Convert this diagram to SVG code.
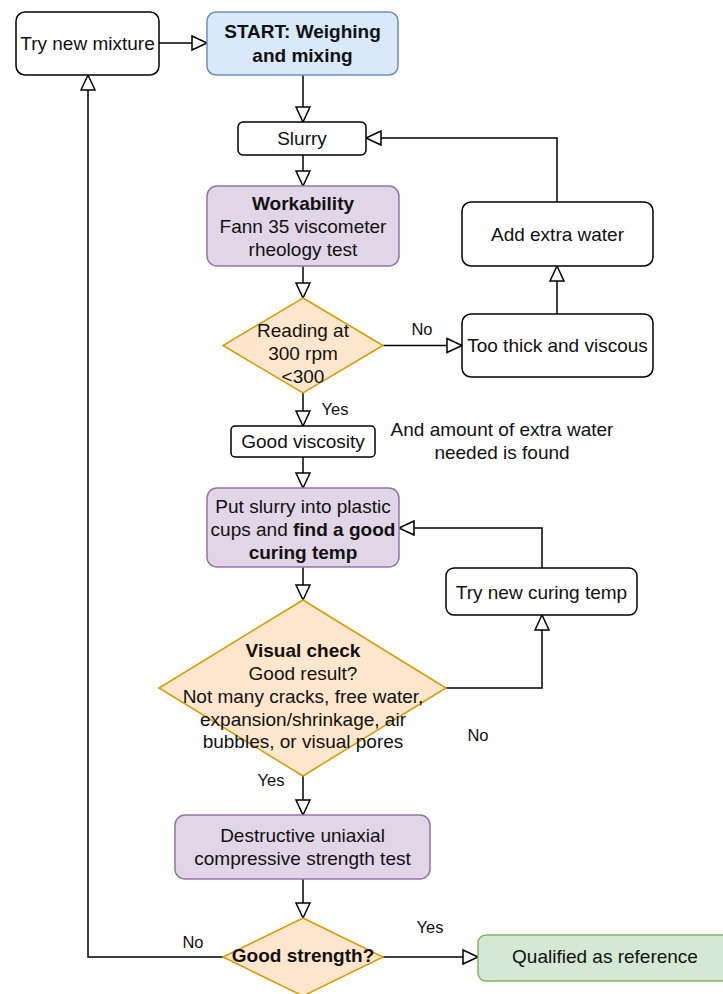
<svg xmlns="http://www.w3.org/2000/svg" width="723" height="994" viewBox="0 0 723 994">
  <defs>
    <!-- open triangular arrowhead used by every connector -->
    <marker id="arr" viewBox="-2 -2 19 18" markerWidth="19" markerHeight="18" refX="15" refY="7" orient="auto" markerUnits="userSpaceOnUse">
      <path d="M0,0 L15,7 L0,14 Z" fill="#fff" stroke="#000" stroke-width="1.5"/>
    </marker>
    <style>
      text { font-family: "Liberation Sans", Arial, Helvetica, sans-serif; font-size: 19px; fill: #111; text-anchor: middle; }
      .b { font-weight: bold; }
      .lbl { font-size: 16.5px; }
      .plain { fill: #fff; stroke: #000; stroke-width: 1.5; }
      .blue { fill: #dae8fc; stroke: #6c8ebf; stroke-width: 1.5; }
      .purple { fill: #e1d5e7; stroke: #9673a6; stroke-width: 1.5; }
      .orange { fill: #ffe6cc; stroke: #d79b00; stroke-width: 1.5; }
      .green { fill: #d5e8d4; stroke: #82b366; stroke-width: 1.5; }
      .edge { fill: none; stroke: #000; stroke-width: 1.5; marker-end: url(#arr); }
    </style>
  </defs>

  <rect width="723" height="994" fill="#fff"/>

  <!-- connectors -->
  <g id="connectors">
    <path class="edge" d="M159,43 L207,43"/>
    <path class="edge" d="M303,75 L303,122"/>
    <path class="edge" d="M557,202 L557,138 L366,138"/>
    <path class="edge" d="M303,155 L303,186"/>
    <path class="edge" d="M303,266 L303,298"/>
    <path class="edge" d="M383,345.5 L462,345.5"/>
    <path class="edge" d="M557,314 L557,266"/>
    <path class="edge" d="M303,393 L303,426"/>
    <path class="edge" d="M303,457 L303,488"/>
    <path class="edge" d="M542,568 L542,528 L399,528"/>
    <path class="edge" d="M303,567 L303,600"/>
    <path class="edge" d="M446,688 L542,688 L542,615"/>
    <path class="edge" d="M303,776 L303,815"/>
    <path class="edge" d="M303,879 L303,918"/>
    <path class="edge" d="M383,957 L478,957"/>
    <path class="edge" d="M223,957 L88,957 L88,75"/>
    <!-- edge labels -->
    <text class="lbl" x="422" y="335">No</text>
    <text class="lbl" x="335" y="415">Yes</text>
    <text class="lbl" x="478" y="741">No</text>
    <text class="lbl" x="271" y="786">Yes</text>
    <text class="lbl" x="193" y="948">No</text>
    <text class="lbl" x="430" y="933">Yes</text>
  </g>

  <g id="try-new-mixture">
    <rect class="plain" x="16" y="12" width="143" height="63" rx="9"/>
    <text x="87.5" y="49.5">Try new mixture</text>
  </g>

  <g id="start">
    <rect class="blue" x="207" y="12" width="191" height="63" rx="9"/>
    <text class="b" x="302.5" y="38">START: Weighing</text>
    <text class="b" x="302.5" y="61.5">and mixing</text>
  </g>

  <g id="slurry">
    <rect class="plain" x="238" y="122" width="128" height="33" rx="5"/>
    <text x="302" y="144.5">Slurry</text>
  </g>

  <g id="workability">
    <rect class="purple" x="207" y="186" width="192" height="80" rx="10"/>
    <text class="b" x="303" y="210">Workability</text>
    <text x="303" y="233">Fann 35 viscometer</text>
    <text x="303" y="256">rheology test</text>
  </g>

  <g id="reading-check">
    <polygon class="orange" points="303,298 383,345.5 303,393 223,345.5"/>
    <text x="303" y="337">Reading at</text>
    <text x="303" y="360">300 rpm</text>
    <text x="303" y="383">&lt;300</text>
  </g>

  <g id="too-thick">
    <rect class="plain" x="462" y="314" width="191" height="63" rx="9"/>
    <text x="557.5" y="352">Too thick and viscous</text>
  </g>

  <g id="add-water">
    <rect class="plain" x="462" y="202" width="191" height="64" rx="9"/>
    <text x="557.5" y="240.5">Add extra water</text>
  </g>

  <g id="good-viscosity">
    <rect class="plain" x="231" y="426" width="144" height="31" rx="4"/>
    <text x="303" y="447.5">Good viscosity</text>
  </g>

  <g id="water-note">
    <text x="502" y="436">And amount of extra water</text>
    <text x="502" y="459">needed is found</text>
  </g>

  <g id="curing">
    <rect class="purple" x="207" y="488" width="192" height="79" rx="10"/>
    <text x="303" y="512.5">Put slurry into plastic</text>
    <text x="303" y="535.5">cups and <tspan class="b">find a good</tspan></text>
    <text class="b" x="303" y="558.5">curing temp</text>
  </g>

  <g id="new-curing-temp">
    <rect class="plain" x="446" y="568" width="191" height="47" rx="8"/>
    <text x="541.5" y="598.5">Try new curing temp</text>
  </g>

  <g id="visual-check">
    <polygon class="orange" points="303,600 446,688 303,776 159,688"/>
    <text class="b" x="303" y="656.5">Visual check</text>
    <text x="303" y="679.5">Good result?</text>
    <text x="303" y="702.5">Not many cracks, free water,</text>
    <text x="303" y="725.5">expansion/shrinkage, air</text>
    <text x="303" y="748">bubbles, or visual pores</text>
  </g>

  <g id="compression-test">
    <rect class="purple" x="175" y="815" width="255" height="64" rx="10"/>
    <text x="302.5" y="842">Destructive uniaxial</text>
    <text x="302.5" y="865">compressive strength test</text>
  </g>

  <g id="strength-check">
    <polygon class="orange" points="303,918 383,957 303,996 223,957"/>
    <text class="b" x="303" y="961.5">Good strength?</text>
  </g>

  <g id="qualified">
    <rect class="green" x="478" y="935" width="256" height="46" rx="8"/>
    <text x="605" y="963">Qualified as reference</text>
  </g>
</svg>
